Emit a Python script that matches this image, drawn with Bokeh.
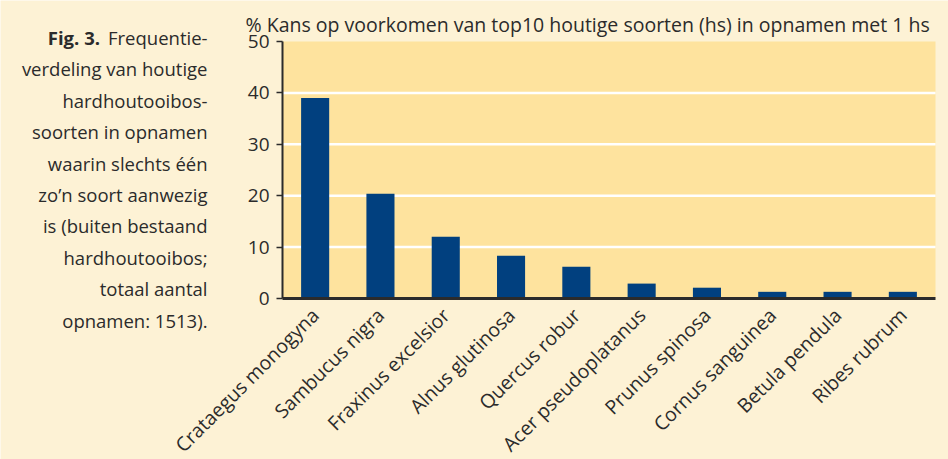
import math
from bokeh.plotting import figure
from bokeh.models import (Range1d, FixedTicker, Label, LinearAxis,
                          CustomJSTickFormatter)
from bokeh.embed import file_html
from bokeh.resources import INLINE

# ---- data ----
species = ["Crataegus monogyna", "Sambucus nigra", "Fraxinus excelsior",
           "Alnus glutinosa", "Quercus robur", "Acer pseudoplatanus",
           "Prunus spinosa", "Cornus sanguinea", "Betula pendula", "Ribes rubrum"]
percent = [39.0, 20.4, 12.0, 8.3, 6.2, 2.9, 2.1, 1.3, 1.3, 1.3]
y_ticks = [0, 10, 20, 30, 40, 50]
grid_ticks = [10, 20, 30, 40]
title_text = "% Kans op voorkomen van top10 houtige soorten (hs) in opnamen met 1 hs"
caption_bold = "Fig. 3."
caption_lines = ["Frequentie-", "verdeling van houtige", "hardhoutooibos-",
                 "soorten in opnamen", "waarin slechts één", "zo’n soort aanwezig",
                 "is (buiten bestaand", "hardhoutooibos;", "totaal aantal",
                 "opnamen: 1513)."]

# ---- style / layout ----
PAGE_BG = "#fdf2d5"
FRAME_BG = "#fee39e"
BAR = "#01407f"
TXT = "#2b2b2b"
FONT = "Open Sans"
W, H = 948, 459
PLOT_L, PLOT_R, PLOT_T, PLOT_B = 282, 935, 41, 298

n = len(species)
ymax = y_ticks[-1]
ux = (PLOT_R - PLOT_L) / n        # px per category
uy = (PLOT_B - PLOT_T) / ymax     # px per percent


def dx(px):
    return (px - PLOT_L) / ux


def dy(py):
    return (PLOT_B - py) / uy


p = figure(width=W, height=H, output_backend="svg", toolbar_location=None,
           x_range=Range1d(dx(0), dx(W)), y_range=Range1d(dy(H), dy(0)),
           x_axis_location=None, y_axis_location=None, min_border=0)
p.grid.visible = False
p.outline_line_color = None
p.background_fill_color = PAGE_BG
p.border_fill_color = PAGE_BG

bar_x = [i + 0.5 for i in range(n)]

# plot area, grid lines, bars
p.quad(left=[0], right=[n], bottom=[0], top=[ymax], fill_color=FRAME_BG, line_color=None)
p.segment(x0=[0] * len(grid_ticks), x1=[n] * len(grid_ticks), y0=grid_ticks, y1=grid_ticks,
          line_color="white", line_width=2.5)
p.vbar(x=bar_x, top=percent, width=0.43, color=BAR, line_color=None)

# y axis
yaxis = LinearAxis(fixed_location=0, ticker=FixedTicker(ticks=y_ticks), bounds=(0, ymax))
yaxis.axis_line_color = TXT
yaxis.axis_line_width = 2
yaxis.major_tick_line_color = TXT
yaxis.major_tick_line_width = 1.5
yaxis.major_tick_out = 6
yaxis.major_tick_in = 0
yaxis.minor_tick_line_color = None
yaxis.major_label_standoff = 7
yaxis.major_label_text_font = FONT
yaxis.major_label_text_font_size = "19px"
yaxis.major_label_text_color = TXT
p.add_layout(yaxis, "left")

# x axis
xaxis = LinearAxis(fixed_location=0, ticker=FixedTicker(ticks=bar_x), bounds=(0, n),
                   formatter=CustomJSTickFormatter(args=dict(names=species),
                                                   code="return names[Math.floor(tick)];"))
xaxis.axis_line_color = TXT
xaxis.axis_line_width = 3
xaxis.major_tick_line_color = None
xaxis.major_tick_out = 0
xaxis.major_tick_in = 0
xaxis.minor_tick_line_color = None
xaxis.major_label_orientation = math.pi / 4
xaxis.major_label_standoff = 13
xaxis.major_label_text_font = FONT
xaxis.major_label_text_font_size = "19.5px"
xaxis.major_label_text_color = TXT
p.add_layout(xaxis, "below")

# title
p.add_layout(Label(x=dx(245), y=dy(24), text=title_text, text_font=FONT,
                   text_font_size="19.5px", text_color=TXT,
                   text_align="left", text_baseline="alphabetic"))

# caption
for i, line in enumerate(caption_lines):
    p.add_layout(Label(x=dx(207), y=dy(37 + 31.4 * i), text=line, text_font=FONT,
                       text_font_size="18.5px", text_color=TXT,
                       text_align="right", text_baseline="alphabetic"))
p.add_layout(Label(x=dx(99.5), y=dy(37), text=caption_bold, text_font=FONT,
                   text_font_size="18.5px", text_font_style="bold", text_color=TXT,
                   text_align="right", text_baseline="alphabetic"))

html = file_html(p, INLINE)
html = html.replace("<body>", '<body style="background:%s">' % PAGE_BG, 1)
open("out.html", "w").write(html)
